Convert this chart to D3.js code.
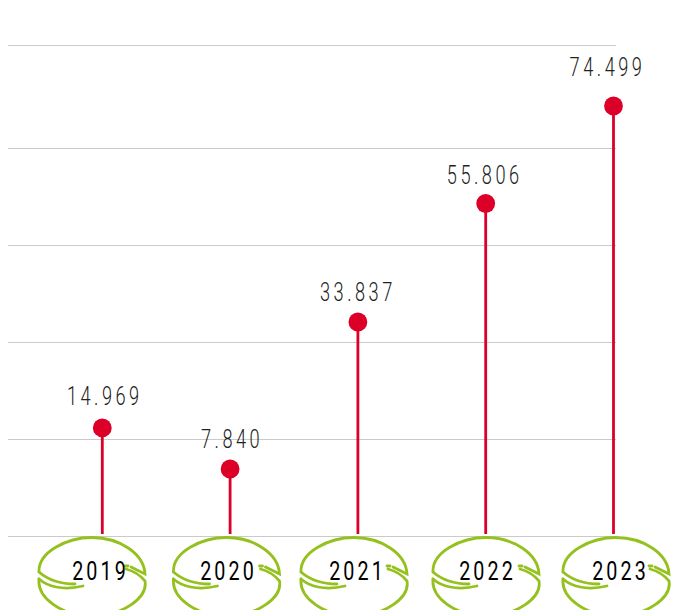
<!DOCTYPE html>
<html><head><meta charset="utf-8">
<script src="https://cdn.jsdelivr.net/npm/d3@7"></script>
<style>html,body{margin:0;padding:0;background:#fff}svg{display:block}</style></head>
<body><svg id="c" width="674" height="610"></svg>
<script>
const years = ["2019","2020","2021","2022","2023"];
const values = [14969,7840,33837,55806,74499];
const valueLabels = ["14.969","7.840","33.837","55.806","74.499"];
const gridLevels = [-3800,13050,29925,48900,65050,88230];

const gridY = [536,439,342,245,148,45];
const labelCenterShift = [2.5,2,0,-1,-6];
const labelGap = [23,21,21,20,30];
const yearCenter = [100,228,357,487,620];
const badgeCenter = [92,226.5,354,486,616];

const svg = d3.select("#c");
const x = d3.scalePoint().domain(years).range([102.3,613.5]);
const y = d3.scaleLinear().domain(gridLevels).range(gridY);
const RED="#dc0028", GREEN="#95c11f";

svg.append("g").selectAll("line").data(gridLevels).join("line")
  .attr("x1",8).attr("x2",616).attr("y1",d=>Math.round(y(d))+.5).attr("y2",d=>Math.round(y(d))+.5)
  .attr("stroke","#cacaca").attr("stroke-width",1);

const badge = svg.append("defs").append("g").attr("id","badge")
  .attr("fill","none").attr("stroke",GREEN).attr("stroke-width",2.8).attr("stroke-linecap","round");
["M-53,-4C-54,-24 -25,-38.500 0,-38.500C28,-38.500 52,-22 53,-2L39,-9",
 "M-53,-4C-45,3 -35,8 -17,8",
 "M-53,3C-55,22 -30,40 0,40C30,40 56,22 53,5C48,-1 42,-5 34,-7",
 "M-53,3C-45,10 -30,15 -9,10",
 "M33,-10L36,-10"].forEach(p=>badge.append("path").attr("d",p));

svg.append("g").selectAll("use").data(years).join("use")
  .attr("href","#badge").attr("transform",(d,i)=>`translate(${badgeCenter[i]},576)`);

svg.append("g").selectAll("line").data(values).join("line")
  .attr("x1",(d,i)=>x(years[i])).attr("x2",(d,i)=>x(years[i]))
  .attr("y1",d=>y(d)).attr("y2",534)
  .attr("stroke",RED).attr("stroke-width",2.8);
svg.append("g").selectAll("circle").data(values).join("circle")
  .attr("cx",(d,i)=>x(years[i])).attr("cy",d=>y(d)).attr("r",9.4).attr("fill",RED);

svg.append("g").selectAll("text").data(valueLabels).join("text")
  .attr("transform",(d,i)=>`translate(${x(years[i])+labelCenterShift[i]},${y(values[i])-labelGap[i]}) scale(.7,1)`)
  .attr("text-anchor","middle")
  .style("font-family","Roboto").style("font-weight",300).style("font-size","26px")
  .style("letter-spacing","5px").attr("fill","#222").text(d=>d);

svg.append("g").selectAll("text").data(years).join("text")
  .attr("transform",(d,i)=>`translate(${yearCenter[i]+.5},580) scale(.76,1)`)
  .attr("text-anchor","middle")
  .style("font-family","Roboto").style("font-weight",400).style("font-size","26px")
  .style("letter-spacing","4px").attr("fill","#000").text(d=>d);
</script></body></html>
